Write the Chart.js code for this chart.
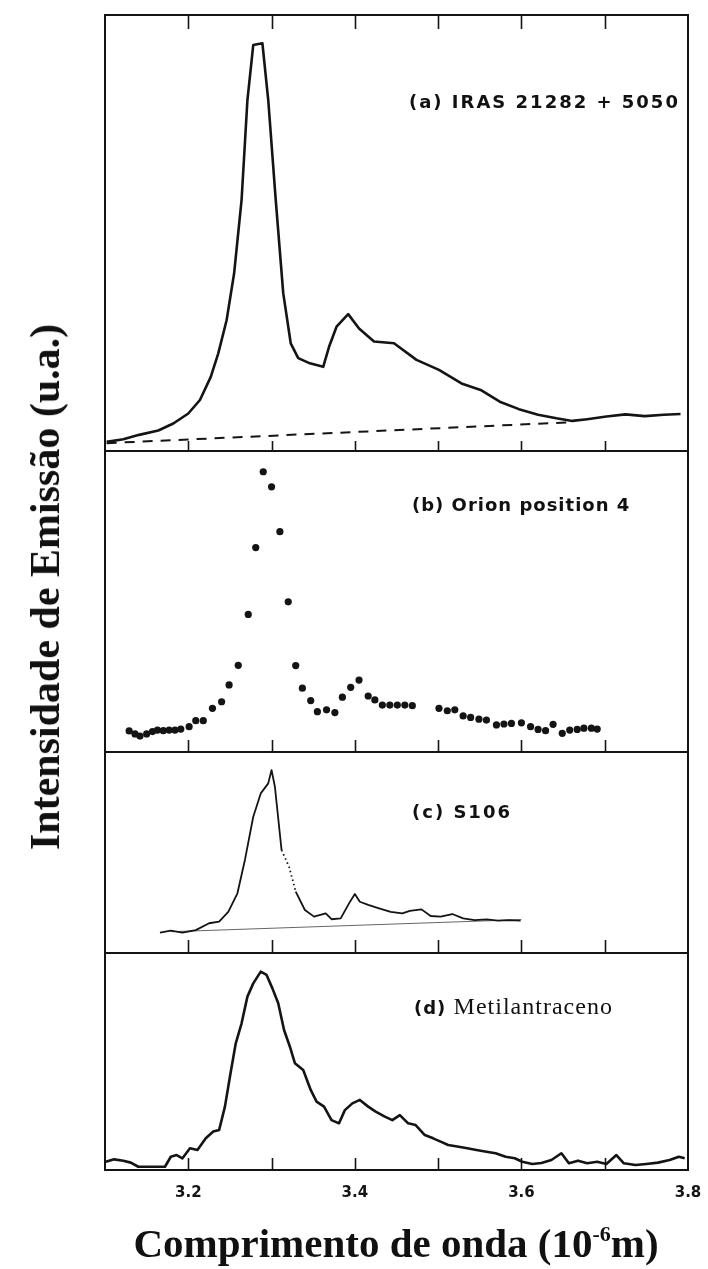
<!DOCTYPE html>
<html>
<head>
<meta charset="utf-8">
<script src="https://cdn.jsdelivr.net/npm/chart.js@4.4.1/dist/chart.umd.min.js"></script>
<style>
  body { margin: 0; background: #fff; }
  #page { position: relative; width: 708px; height: 1269px; overflow: hidden; background: #fff; }
  .panel { position: absolute; left: 0; }
  .panel canvas { display: block; }
  .lbl { position: absolute; font-family: "DejaVu Sans", sans-serif; font-weight: bold; font-size: 18px; color: #111; white-space: nowrap; letter-spacing: 2px; }
  .serif { font-family: "Liberation Serif", "Times New Roman", serif; font-weight: normal; letter-spacing: 1px; font-size: 24px; }
  #ytitle { position: absolute; left: 45px; top: 587px; transform: translate(-50%, -50%) rotate(-90deg);
            font-family: "Liberation Serif", "Times New Roman", serif; font-weight: bold; font-size: 42px; color: #111; white-space: nowrap; }
  #xtitle { position: absolute; left: 396px; top: 1243px; transform: translate(-50%, -50%);
            font-family: "Liberation Serif", "Times New Roman", serif; font-weight: bold; font-size: 41px; color: #111; white-space: nowrap; }
  #xtitle sup { font-size: 22px; vertical-align: 16px; line-height: 0; }
</style>
</head>
<body>
<div id="page">
  <div class="panel" style="top:0px"><canvas id="chartA" width="708" height="470"></canvas></div>
  <div class="panel" style="top:440px"><canvas id="chartB" width="708" height="330"></canvas></div>
  <div class="panel" style="top:740px"><canvas id="chartC" width="708" height="230"></canvas></div>
  <div class="panel" style="top:940px"><canvas id="chartD" width="708" height="329"></canvas></div>

  <div class="lbl" style="left:409px; top:91px">(a) IRAS 21282 + 5050</div>
  <div class="lbl" style="left:412px; top:494px; letter-spacing:1px">(b) Orion position 4</div>
  <div class="lbl" style="left:412px; top:801px">(c) S106</div>
  <div class="lbl" style="left:414px; top:993px; letter-spacing:1px">(d) <span class="serif">Metilantraceno</span></div>

  <div id="ytitle">Intensidade de Emissão (u.a.)</div>
  <div id="xtitle">Comprimento de onda (10<sup>-6</sup>m)</div>
</div>

<script>
// x axis (10^-6 m)
const xMin = 3.1;
const xMax = 3.8;
const tickValues = [3.2, 3.3, 3.4, 3.5, 3.6, 3.7];
const tickLabels = ['3.2', '3.4', '3.6', '3.8'];

// (a) IRAS 21282 + 5050
const waveA = [3.102, 3.122, 3.141, 3.164, 3.182, 3.200, 3.214, 3.227, 3.236, 3.246, 3.255, 3.264, 3.271, 3.278,
  3.289, 3.296, 3.305, 3.314, 3.323, 3.332, 3.346, 3.362, 3.369, 3.378, 3.392, 3.405, 3.423, 3.447, 3.474,
  3.501, 3.528, 3.551, 3.574, 3.597, 3.620, 3.642, 3.661, 3.679, 3.702, 3.725, 3.748, 3.771, 3.791];
const intA = [2.1, 2.7, 3.7, 4.7, 6.3, 8.6, 11.7, 17.0, 22.4, 30.0, 40.7, 57.6, 80.5, 93.1,
  93.5, 80.5, 57.6, 36.2, 24.7, 21.3, 20.1, 19.3, 23.9, 28.5, 31.4, 28.1, 25.1, 24.7, 20.9,
  18.6, 15.5, 14.0, 11.3, 9.6, 8.3, 7.5, 6.9, 7.3, 7.9, 8.4, 8.0, 8.3, 8.5];
const baseAx = [3.102, 3.661];
const baseAy = [1.8, 6.6];

// (b) Orion position 4
const waveB = [3.129, 3.136, 3.142, 3.150, 3.157, 3.163, 3.170, 3.177, 3.184, 3.191, 3.201, 3.209, 3.218, 3.229,
  3.240, 3.249, 3.260, 3.272, 3.281, 3.290, 3.300, 3.310, 3.320, 3.329, 3.337, 3.347, 3.355, 3.366, 3.376,
  3.385, 3.395, 3.405, 3.416, 3.424, 3.433, 3.442, 3.451, 3.460, 3.469, 3.501, 3.511, 3.520, 3.530, 3.539,
  3.549, 3.558, 3.570, 3.579, 3.588, 3.600, 3.611, 3.620, 3.629, 3.638, 3.649, 3.658, 3.667, 3.675, 3.684, 3.691];
const intB = [7.0, 6.0, 5.3, 6.0, 6.8, 7.3, 7.1, 7.3, 7.3, 7.6, 8.4, 10.4, 10.4, 14.5,
  16.7, 22.3, 28.8, 45.7, 67.9, 93.1, 88.1, 73.2, 49.9, 28.7, 21.2, 17.1, 13.4, 14.0, 13.1,
  18.2, 21.5, 23.9, 18.6, 17.3, 15.6, 15.6, 15.6, 15.6, 15.4, 14.5, 13.7, 14.0, 12.0, 11.5,
  10.9, 10.6, 9.0, 9.3, 9.5, 9.7, 8.4, 7.5, 7.1, 9.2, 6.2, 7.3, 7.5, 7.9, 7.9, 7.6];

// (c) S106
const waveC = [3.166, 3.179, 3.193, 3.209, 3.225, 3.237, 3.248, 3.259, 3.268, 3.278, 3.287, 3.296, 3.300, 3.304,
  3.312, 3.321, 3.329, 3.340, 3.351, 3.365, 3.372, 3.383, 3.393, 3.400, 3.406, 3.416, 3.429, 3.443, 3.457,
  3.466, 3.480, 3.491, 3.503, 3.517, 3.530, 3.544, 3.558, 3.572, 3.585, 3.599];
const intC = [10.1, 11.1, 10.1, 11.4, 14.8, 15.6, 20.5, 29.7, 46.3, 67.8, 79.4, 84.4, 91.0, 82.7,
  51.2, 42.9, 30.5, 21.4, 18.1, 19.7, 16.8, 17.2, 24.7, 29.4, 25.5, 23.9, 22.2, 20.5, 19.7,
  21.0, 21.7, 18.4, 18.1, 19.4, 17.2, 16.4, 16.7, 16.1, 16.4, 16.1];
const baseCx = [3.18, 3.60];
const baseCy = [10.6, 16.6];
const gapC = [3.311, 3.330];   // dotted stretch of the S106 trace

// (d) Metilantraceno
const waveD = [3.101, 3.111, 3.122, 3.131, 3.140, 3.154, 3.172, 3.179, 3.186, 3.193, 3.202, 3.211, 3.221, 3.230,
  3.237, 3.244, 3.250, 3.257, 3.264, 3.271, 3.278, 3.287, 3.294, 3.301, 3.308, 3.315, 3.322, 3.328, 3.338,
  3.347, 3.354, 3.363, 3.372, 3.381, 3.388, 3.397, 3.406, 3.416, 3.425, 3.436, 3.445, 3.454, 3.464, 3.473,
  3.484, 3.494, 3.503, 3.512, 3.523, 3.535, 3.546, 3.558, 3.569, 3.581, 3.592, 3.601, 3.613, 3.624, 3.636,
  3.648, 3.657, 3.668, 3.679, 3.691, 3.702, 3.714, 3.723, 3.737, 3.750, 3.764, 3.778, 3.789, 3.796];
const intD = [3.8, 4.9, 4.3, 3.4, 1.5, 1.5, 1.5, 6.1, 6.9, 5.4, 10.0, 9.2, 14.6, 17.7,
  18.4, 29.2, 43.0, 58.4, 67.6, 79.9, 86.0, 91.4, 89.9, 83.7, 76.8, 64.5, 56.8, 49.2, 46.1,
  36.9, 31.5, 29.2, 23.0, 21.5, 27.6, 30.7, 32.3, 29.2, 26.9, 24.6, 23.0, 25.3, 21.5, 20.7,
  16.1, 14.6, 13.1, 11.5, 10.8, 10.0, 9.2, 8.4, 7.7, 6.1, 5.4, 3.8, 2.8, 3.2, 4.6,
  7.7, 3.1, 4.3, 3.1, 3.8, 2.8, 6.9, 3.1, 2.3, 2.8, 3.4, 4.6, 6.1, 5.4];

const ink = '#141414';
const toPts = (xs, ys) => xs.map((x, i) => ({ x: x, y: ys[i] }));

// frame + inward ticks, positioned through the x scale
const framePlugin = {
    id: 'frame',
    afterDraw(chart, args, opts) {
        const ctx = chart.ctx;
        const a = chart.chartArea;
        const xs = chart.scales.x;
        ctx.save();
        ctx.strokeStyle = ink;
        ctx.lineWidth = 2;
        ctx.strokeRect(a.left, a.top, a.right - a.left, a.bottom - a.top);
        ctx.lineWidth = 1.6;
        tickValues.forEach(v => {
            const px = Math.round(xs.getPixelForValue(v)) + 0.5;
            ctx.beginPath();
            if (opts.top) { ctx.moveTo(px, a.top); ctx.lineTo(px, a.top + opts.top); }
            if (opts.bottom) { ctx.moveTo(px, a.bottom); ctx.lineTo(px, a.bottom - opts.bottom); }
            ctx.stroke();
        });
        ctx.restore();
    }
};

const makeChart = (id, datasets, pad, frame, showLabels) => {
    return new Chart(document.getElementById(id), {
        type: 'scatter',
        data: { datasets: datasets },
        options: {
            responsive: false,
            animation: false,
            events: [],
            layout: { padding: pad },
            plugins: { legend: { display: false }, tooltip: { enabled: false }, frame: frame },
            scales: {
                x: {
                    type: 'linear',
                    min: xMin,
                    max: xMax,
                    display: showLabels,
                    grid: { display: false },
                    border: { display: false },
                    ticks: {
                        stepSize: 0.1,
                        autoSkip: false,
                        maxRotation: 0,
                        padding: 6,
                        color: ink,
                        font: { family: 'DejaVu Sans', weight: 'bold', size: 15 },
                        callback: (v) => {
                            const s = (Math.round(v * 10) / 10).toFixed(1);
                            return tickLabels.includes(s) ? s : '';
                        }
                    },
                    afterFit: (scale) => {
                        if (!showLabels) return;
                        scale.height = 44;
                        scale.paddingLeft = 0;
                        scale.paddingRight = 0;
                    }
                },
                y: { display: false, min: 0, max: 100 }
            }
        },
        plugins: [framePlugin]
    });
};

const lineSet = (xs, ys, width, extra) => Object.assign({
    data: toPts(xs, ys),
    showLine: true,
    borderColor: ink,
    borderWidth: width,
    borderJoinStyle: 'round',
    pointRadius: 0,
    tension: 0,
    clip: false
}, extra || {});

makeChart('chartA', [
    lineSet(waveA, intA, 2.6),
    lineSet(baseAx, baseAy, 2, { borderDash: [10, 8] })
], { left: 105, right: 20, top: 15, bottom: 19 }, { top: 14, bottom: 10 }, false);

makeChart('chartB', [{
    data: toPts(waveB, intB),
    showLine: false,
    pointRadius: 3.6,
    pointBackgroundColor: ink,
    pointBorderWidth: 0,
    clip: false
}], { left: 105, right: 20, top: 11, bottom: 18 }, { bottom: 12 }, false);

makeChart('chartC', [
    lineSet(waveC, intC, 1.8, {
        segment: {
            borderDash: (c) => (c.p0.parsed.x >= gapC[0] && c.p1.parsed.x <= gapC[1]) ? [1.5, 3] : undefined
        }
    }),
    lineSet(baseCx, baseCy, 1, { borderColor: '#666' })
], { left: 105, right: 20, top: 12, bottom: 17 }, { bottom: 13 }, false);

makeChart('chartD', [
    lineSet(waveD, intD, 2.6)
], { left: 105, right: 20, top: 13, bottom: 55 }, { bottom: 12 }, true);
</script>
</body>
</html>
